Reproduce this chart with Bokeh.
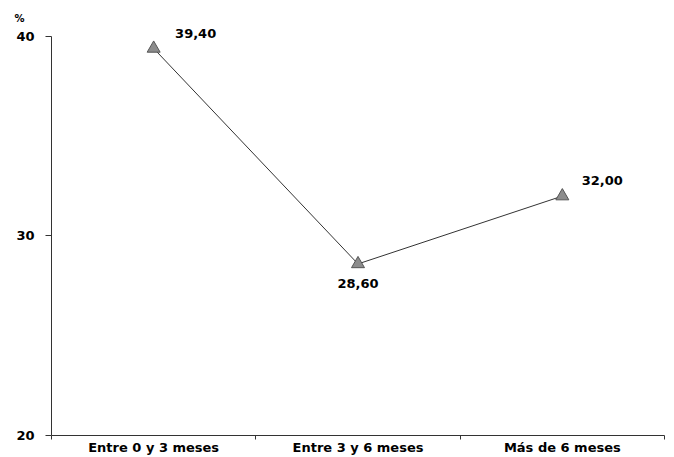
from bokeh.plotting import figure
from bokeh.models import FixedTicker, Range1d, ColumnDataSource, LabelSet
from bokeh.embed import file_html
from bokeh.resources import INLINE
from bokeh.core.properties import value

categories = ["Entre 0 y 3 meses", "Entre 3 y 6 meses", "Más de 6 meses"]
values = [39.40, 28.60, 32.00]
value_labels = ["39,40", "28,60", "32,00"]
y_ticks = [20, 30, 40]

FONT = "DejaVu Sans"

xs = [i + 0.5 for i in range(len(categories))]

p = figure(width=674, height=457, output_backend="svg", toolbar_location=None,
           x_range=Range1d(0, len(categories)), y_range=Range1d(20, 40.5),
           min_border_left=51, min_border_right=10, min_border_top=26, min_border_bottom=0,
           title="%")
p.outline_line_color = None
p.xgrid.grid_line_color = None
p.ygrid.grid_line_color = None
p.background_fill_color = "white"

p.title.align = "left"
p.title.offset = -37
p.title.text_font = FONT
p.title.text_font_style = "bold"
p.title.text_font_size = "10px"
p.title.text_color = "black"
p.title.standoff = 6

# x axis
p.xaxis.ticker = FixedTicker(ticks=xs, minor_ticks=list(range(len(categories) + 1)))
p.xaxis.major_label_overrides = {x: c for x, c in zip(xs, categories)}
p.xaxis.major_tick_out = 0
p.xaxis.major_tick_in = 0
p.xaxis.minor_tick_out = 4
p.xaxis.minor_tick_in = 0
p.xaxis.minor_tick_line_color = "#333333"
p.xaxis.axis_line_color = "#333333"
p.xaxis.major_label_text_font = FONT
p.xaxis.major_label_text_font_style = "bold"
p.xaxis.major_label_text_font_size = "13px"
p.xaxis.major_label_text_color = "black"
p.xaxis.major_label_standoff = 0

# y axis
p.yaxis.ticker = FixedTicker(ticks=y_ticks, minor_ticks=[])
p.yaxis.bounds = (20, 40)
p.yaxis.major_tick_out = 6
p.yaxis.major_tick_in = 0
p.yaxis.major_tick_line_color = "#333333"
p.yaxis.axis_line_color = "#333333"
p.yaxis.major_label_text_font = FONT
p.yaxis.major_label_text_font_style = "bold"
p.yaxis.major_label_text_font_size = "13px"
p.yaxis.major_label_text_color = "black"
p.yaxis.major_label_standoff = 11

src = ColumnDataSource(dict(x=xs, y=values, lab=value_labels,
                            dx=[42, 0, 40], dy=[15, -20, 16]))

p.line("x", "y", source=src, line_color="#333333", line_width=1)
p.scatter("x", "y", source=src, marker="triangle", size=13,
          fill_color="#8c8c8c", line_color="#555555", line_width=1)

p.add_layout(LabelSet(x="x", y="y", text="lab", source=src,
                      x_offset="dx", y_offset="dy",
                      text_font=value(FONT), text_font_style="bold",
                      text_font_size="13px", text_color="black",
                      text_align="center", text_baseline="middle"))

open("out.html", "w").write(file_html(p, INLINE))
